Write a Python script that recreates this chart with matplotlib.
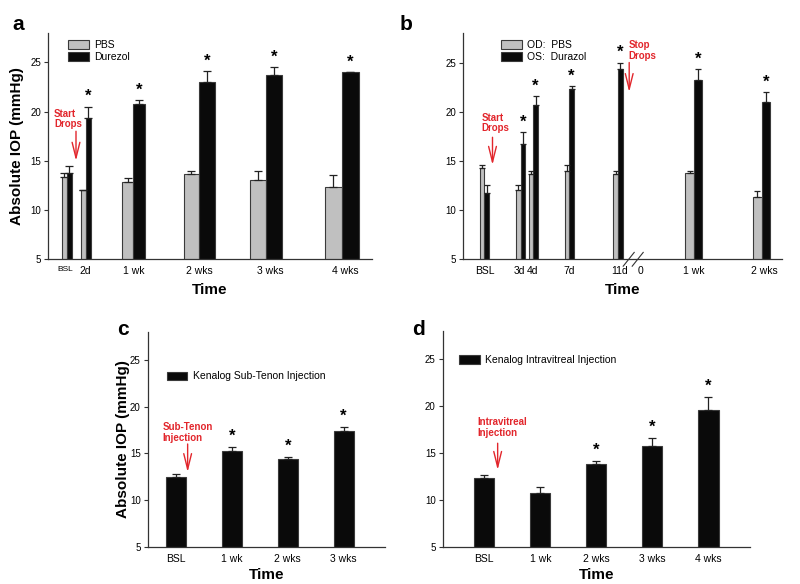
import numpy as np
import matplotlib.pyplot as plt
from matplotlib.lines import Line2D

plt.rcParams['font.family'] = ['Liberation Sans', 'DejaVu Sans']

# ---- panel a data ----
a_labels = ['BSL', '2d', '1 wk', '2 wks', '3 wks', '4 wks']
a_pbs = [13.3, 12.0, 12.8, 13.7, 13.0, 12.3]
a_pbs_err = [0.5, 0.0, 0.4, 0.3, 1.0, 1.2]
a_dur = [13.8, 19.4, 20.8, 23.0, 23.7, 24.0]
a_dur_err = [0.7, 1.1, 0.4, 1.1, 0.8, 0.0]
a_star = [False, True, True, True, True, True]

# ---- panel b data ----
b_labels = ['BSL', '3d', '4d', '7d', '11d', '1 wk', '2 wks']
b_pbs = [14.3, 12.0, 13.7, 14.0, 13.7, 13.8, 11.3]
b_pbs_err = [0.3, 0.6, 0.3, 0.6, 0.3, 0.2, 0.6]
b_dur = [11.7, 16.7, 20.7, 22.3, 24.3, 23.2, 21.0]
b_dur_err = [0.9, 1.2, 0.9, 0.3, 0.7, 1.1, 1.0]
b_star = [False, True, True, True, True, True, True]

# ---- panel c data ----
c_labels = ['BSL', '1 wk', '2 wks', '3 wks']
c_vals = [12.5, 15.2, 14.4, 17.4]
c_err = [0.3, 0.5, 0.2, 0.4]
c_star = [False, True, True, True]

# ---- panel d data ----
d_labels = ['BSL', '1 wk', '2 wks', '3 wks', '4 wks']
d_vals = [12.3, 10.7, 13.8, 15.8, 19.6]
d_err = [0.4, 0.7, 0.4, 0.8, 1.4]
d_star = [False, False, True, True, True]

GRAY = '#c0c0c0'
BLACK = '#0a0a0a'
RED = '#e2262c'
EDGE = '#3a3a3a'
ERR_KW = dict(ecolor='#222222', elinewidth=0.9, capthick=0.9)
LEG_KW = dict(loc='upper left', frameon=False, fontsize=7.5, handlelength=2.0,
              handleheight=0.9, handletextpad=0.5, labelspacing=0.2,
              borderaxespad=0, borderpad=0)

fig = plt.figure(figsize=(8, 5.84), dpi=100)


def style_axis(ax, xlim):
    ax.set_xlim(*xlim)
    ax.set_ylim(5, 28)
    ax.set_yticks([5, 10, 15, 20, 25])
    for s in ['top', 'right']:
        ax.spines[s].set_visible(False)
    for s in ['left', 'bottom']:
        ax.spines[s].set_color('#333333')
        ax.spines[s].set_linewidth(0.9)
    ax.tick_params(axis='y', labelsize=7, length=3, width=0.8, color='#333333', pad=2)
    ax.tick_params(axis='x', labelsize=7.5, length=0, pad=5)


def pair_bars(ax, centers, widths, pbs, pbs_err, dur, dur_err, stars, cap):
    centers = np.array(centers)
    widths = np.array(widths)
    ax.bar(centers - widths / 2, pbs, widths, color=GRAY, edgecolor=EDGE,
           linewidth=0.8, yerr=[np.zeros(len(pbs)), pbs_err], capsize=cap, error_kw=ERR_KW)
    ax.bar(centers + widths / 2, dur, widths, color=BLACK, edgecolor=EDGE,
           linewidth=0.8, yerr=[np.zeros(len(dur)), dur_err], capsize=cap, error_kw=ERR_KW)
    for x, w, v, e, s in zip(centers, widths, dur, dur_err, stars):
        if s:
            ax.text(x + w / 2, v + e + 0.25, '*', ha='center', va='bottom',
                    fontsize=12, fontweight='bold')


def red_note(ax, text, xy_text, xy_tail, xy_head):
    ax.text(*xy_text, text, color=RED, fontsize=7, fontweight='bold',
            ha='left', va='top', linespacing=1.1)
    ax.annotate('', xy=xy_head, xytext=xy_tail,
                arrowprops=dict(arrowstyle='->, head_length=0.8, head_width=0.2',
                                color=RED, lw=1.0, mutation_scale=14,
                                shrinkA=0, shrinkB=0))


def swatches():
    return [plt.Rectangle((0, 0), 1, 1, fc=GRAY, ec=EDGE, lw=0.8),
            plt.Rectangle((0, 0), 1, 1, fc=BLACK, ec=EDGE, lw=0.8)]


# ================= panel a =================
axa = fig.add_axes([0.06, 0.5565, 0.405, 0.387])
a_centers = [18.7, 37.7, 85.3, 151, 217.7, 293.7]
a_widths = [5, 5, 11.5, 15.5, 16, 17]
pair_bars(axa, a_centers, a_widths, a_pbs, a_pbs_err, a_dur, a_dur_err, a_star, 3)
style_axis(axa, (0, 324))
axa.set_xticks([17, 37.7, 86, 151, 222.7, 297.7])
axa.set_xticklabels(a_labels)
axa.get_xticklabels()[0].set_fontsize(6)
axa.set_ylabel('Absolute IOP (mmHg)', fontsize=11, fontweight='bold', labelpad=4.5)
axa.set_xlabel('Time', fontsize=11, fontweight='bold', labelpad=5)
axa.legend(handles=swatches(), labels=['PBS', 'Durezol'],
           bbox_to_anchor=(0.062, 0.97), **LEG_KW)
red_note(axa, 'Start\nDrops', (6, 20.3), (28, 18.0), (28, 15.0))
fig.text(0.015, 0.975, 'a', fontsize=15, fontweight='bold', va='top')

# ================= panel b =================
axb = fig.add_axes([0.579, 0.556, 0.398, 0.3875])
b_centers = [21, 57.4, 70, 106, 154.7, 230.7, 298.4]
b_widths = [4.7, 4.7, 4.7, 4.7, 4.7, 8.5, 8.8]
pair_bars(axb, b_centers, b_widths, b_pbs, b_pbs_err, b_dur, b_dur_err, b_star, 2.5)
style_axis(axb, (0, 318.4))
axb.set_xticks([21.7, 56.7, 69.4, 106, 156, 177.4, 231, 301])
axb.set_xticklabels(b_labels[:5] + ['0'] + b_labels[5:])
axb.set_xlabel('Time', fontsize=11, fontweight='bold', labelpad=5)
axb.legend(handles=swatches(), labels=['OD:  PBS', 'OS:  Durazol'],
           bbox_to_anchor=(0.12, 0.97), **LEG_KW)
red_note(axb, 'Start\nDrops', (18, 19.9), (29.3, 17.4), (29.3, 14.6))
red_note(axb, 'Stop\nDrops', (165, 27.3), (166, 25.0), (166, 22.0))
for dx in (0, 9):
    axb.add_line(Line2D([160 + dx, 171 + dx], [4.3, 5.7], color='#333333', lw=0.8, clip_on=False))
fig.text(0.5, 0.975, 'b', fontsize=15, fontweight='bold', va='top')

# ================= panel c =================
axc = fig.add_axes([0.1846, 0.0634, 0.2966, 0.3687])
xc = np.arange(len(c_vals))
axc.bar(xc, c_vals, 0.36, color=BLACK, edgecolor=EDGE, linewidth=0.8,
        yerr=[np.zeros(len(c_vals)), c_err], capsize=3, error_kw=ERR_KW,
        label='Kenalog Sub-Tenon Injection')
for x, v, e, s in zip(xc, c_vals, c_err, c_star):
    if s:
        axc.text(x, v + e + 0.35, '*', ha='center', va='bottom', fontsize=12, fontweight='bold')
style_axis(axc, (-0.505, 3.74))
axc.set_xticks(xc)
axc.set_xticklabels(c_labels)
axc.set_ylabel('Absolute IOP (mmHg)', fontsize=11, fontweight='bold', labelpad=0)
axc.set_xlabel('Time', fontsize=11, fontweight='bold', labelpad=3)
axc.legend(bbox_to_anchor=(0.08, 0.815), **LEG_KW)
red_note(axc, 'Sub-Tenon\nInjection', (-0.24, 18.3), (0.21, 16.0), (0.21, 13.0))
fig.text(0.147, 0.452, 'c', fontsize=15, fontweight='bold', va='top')

# ================= panel d =================
axd = fig.add_axes([0.5534, 0.0639, 0.384, 0.3687])
xd = np.arange(len(d_vals))
axd.bar(xd, d_vals, 0.36, color=BLACK, edgecolor=EDGE, linewidth=0.8,
        yerr=[np.zeros(len(d_vals)), d_err], capsize=3, error_kw=ERR_KW,
        label='Kenalog Intravitreal Injection')
for x, v, e, s in zip(xd, d_vals, d_err, d_star):
    if s:
        axd.text(x, v + e + 0.35, '*', ha='center', va='bottom', fontsize=12, fontweight='bold')
style_axis(axd, (-0.74, 4.74))
axd.set_xticks(xd)
axd.set_xticklabels(d_labels)
axd.set_xlabel('Time', fontsize=11, fontweight='bold', labelpad=3)
axd.legend(bbox_to_anchor=(0.053, 0.89), **LEG_KW)
red_note(axd, 'Intravitreal\nInjection', (-0.13, 18.8), (0.24, 16.05), (0.24, 13.2))
fig.text(0.515, 0.452, 'd', fontsize=15, fontweight='bold', va='top')

fig.savefig('out.png', dpi=100)
